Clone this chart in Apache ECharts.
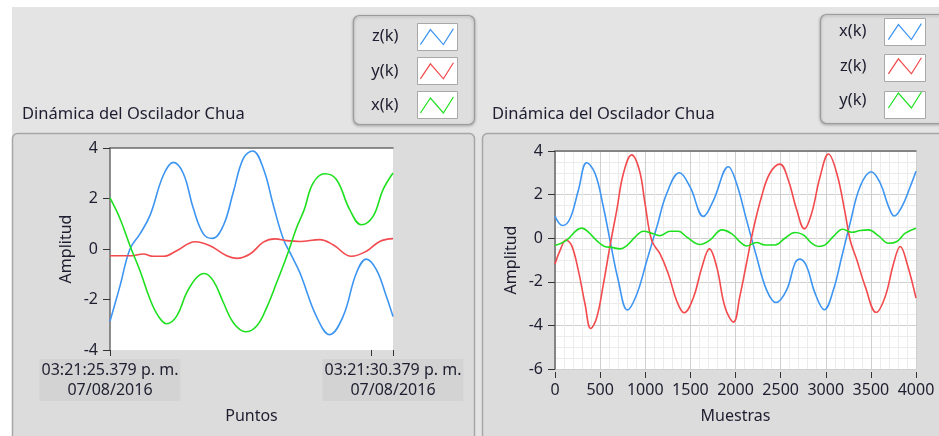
<!DOCTYPE html>
<html>
<head>
<meta charset="utf-8">
<script src="https://cdn.jsdelivr.net/npm/echarts@6/dist/echarts.min.js"></script>
<style>
  html, body { margin: 0; padding: 0; background: #ffffff; }
  #main { width: 939px; height: 436px; }
</style>
</head>
<body>
<div id="main"></div>
<script>
// grafica izquierda: tiempo (s) desde 03:21:25.379
var tiempoInicio = '03:21:25.379 p. m.\n07/08/2016'
var tiempoFin = '03:21:30.379 p. m.\n07/08/2016'
var ticksTiempo = [0, 4.621, 5]
var etiquetasTiempo = [0, 5]

var izqZ = [[0, -2.86], [0.177, -1.46], [0.353, 0], [0.53, 0.6], [0.707, 1.33], [0.942, 2.92], [1.119, 3.43], [1.296, 2.99], [1.473, 1.6], [1.649, 0.6], [1.808, 0.42], [2.003, 0.93], [2.179, 2.26], [2.356, 3.59], [2.521, 3.88], [2.709, 3.19], [2.886, 1.73], [3.062, 0.4], [3.21, -0.27], [3.357, -0.95], [3.647, -2.67], [3.882, -3.39], [4.118, -2.67], [4.353, -0.95], [4.529, -0.4], [4.706, -0.82], [4.882, -1.87], [5, -2.67]]
var izqY = [[0, -0.27], [0.353, -0.27], [0.589, -0.2], [0.766, -0.29], [0.942, -0.29], [1.178, -0.07], [1.502, 0.29], [1.767, 0.13], [2.062, -0.27], [2.238, -0.37], [2.474, -0.2], [2.709, 0.27], [2.915, 0.4], [3.121, 0.33], [3.357, 0.3], [3.706, 0.37], [3.941, 0.17], [4.265, -0.29], [4.529, -0.09], [4.765, 0.3], [5, 0.41]]
var izqX = [[0, 2.02], [0.177, 1.2], [0.353, 0.13], [0.53, -0.86], [0.707, -1.99], [0.854, -2.66], [1.001, -2.96], [1.178, -2.66], [1.355, -1.73], [1.531, -1.13], [1.667, -0.97], [1.826, -1.26], [2.003, -2.12], [2.179, -2.92], [2.397, -3.28], [2.591, -3.05], [2.768, -2.32], [2.945, -1.33], [3.121, -0.3], [3.298, 0.85], [3.43, 1.55], [3.588, 2.61], [3.794, 2.98], [4.0, 2.75], [4.235, 1.56], [4.441, 0.96], [4.647, 1.29], [4.824, 2.35], [5, 3.01]]

// grafica derecha: muestras
var derX = [[0, 1.0], [85, 0.58], [166, 0.89], [259, 2.2], [351, 3.46], [444, 2.97], [536, 1.43], [610, -0.11], [702, -1.95], [802, -3.29], [906, -2.57], [1017, -1.03], [1128, 0.51], [1238, 2.05], [1379, 3.0], [1497, 2.35], [1645, 1.0], [1756, 1.74], [1922, 3.28], [2011, 2.52], [2122, 0.84], [2233, -0.84], [2344, -2.37], [2448, -2.95], [2567, -2.37], [2659, -1.15], [2715, -0.96], [2789, -1.3], [2881, -2.52], [2985, -3.28], [3085, -2.37], [3178, -0.84], [3270, 0.69], [3381, 2.37], [3504, 3.05], [3604, 2.52], [3696, 1.45], [3759, 1.02], [3844, 1.45], [3937, 2.37], [4000, 3.07]]
var derZ = [[0, -1.18], [55, -0.57], [122, -0.08], [185, -0.34], [259, -1.49], [333, -3.03], [396, -4.14], [462, -3.65], [536, -2.11], [610, -0.34], [684, 1.28], [758, 2.97], [850, 3.82], [935, 3.12], [998, 1.58], [1072, -0.11], [1164, -0.72], [1257, -1.65], [1349, -2.88], [1431, -3.42], [1534, -2.72], [1627, -1.34], [1711, -0.49], [1793, -1.34], [1885, -3.18], [1978, -3.85], [2048, -2.67], [2122, -1.15], [2196, 0.38], [2289, 1.91], [2381, 2.98], [2493, 3.4], [2585, 2.67], [2678, 1.3], [2763, 0.43], [2844, 1.15], [2937, 2.82], [3030, 3.86], [3122, 2.98], [3215, 1.15], [3270, -0.08], [3344, -0.99], [3437, -2.21], [3559, -3.4], [3659, -2.67], [3752, -1.15], [3826, -0.38], [3900, -1.15], [4000, -2.75]]
var derY = [[0, -0.34], [122, -0.11], [296, 0.46], [370, 0.28], [462, -0.11], [551, -0.38], [629, -0.42], [721, -0.49], [795, -0.34], [887, 0.05], [980, 0.32], [1091, 0.2], [1165, 0.12], [1276, 0.32], [1368, 0.32], [1461, 0.05], [1608, -0.29], [1719, -0.08], [1849, 0.38], [1960, 0.2], [2052, -0.18], [2122, -0.36], [2233, -0.2], [2326, -0.31], [2437, -0.31], [2548, 0], [2659, 0.26], [2752, 0.15], [2844, -0.23], [2919, -0.38], [2993, -0.31], [3085, 0.08], [3189, 0.41], [3289, 0.27], [3381, 0.35], [3474, 0.38], [3585, 0.11], [3696, -0.23], [3789, -0.15], [3881, 0.23], [4000, 0.46]]

var azul = '#3d95f2'
var rojo = '#f24a4d'
var verde = '#1fe01f'
var texto = '#1e1e30'
var fuente = 'Noto Sans'
var zigzag = 'path://M0,0 M40,26 M4,21 L14,6 L27,21 L37,5'

var myChart = echarts.init(document.getElementById('main'))

function linea(nombre, datos, color, xi, yi) {
  return {
    type: 'line', name: nombre, data: datos,
    xAxisIndex: xi, yAxisIndex: yi,
    showSymbol: false, smooth: 0.4,
    lineStyle: { color: color, width: 1.6 },
    itemStyle: { color: color },
    animation: false
  }
}

function leyenda(nombres, colores, right, top) {
  return {
    orient: 'vertical', align: 'right', right: right, top: top, padding: 0,
    itemWidth: 40, itemHeight: 27, itemGap: 7, selectedMode: false,
    icon: zigzag,
    itemStyle: { color: 'transparent', borderWidth: 1.2 },
    textStyle: { fontFamily: fuente, fontSize: 16.5, color: texto, padding: [0, 13, 0, 0] },
    data: nombres.map(function (n, i) {
      return { name: n, itemStyle: { color: 'transparent', borderColor: colores[i], borderWidth: 1.2 } }
    })
  }
}

var option = {
  backgroundColor: '#ffffff',
  animation: false,
  graphic: [
    { type: 'rect', z: -10, shape: { x: 12, y: 7, width: 930, height: 432 }, style: { fill: '#e4e4e4' } },
    // paneles de las graficas
    { type: 'rect', z: -9, shape: { x: 12.5, y: 133.5, width: 462, height: 320, r: 5 },
      style: { fill: '#dcdcdc', stroke: '#a6a6a6', lineWidth: 1.5 } },
    { type: 'rect', z: -9, shape: { x: 482.5, y: 133.5, width: 470, height: 320, r: 5 },
      style: { fill: '#dcdcdc', stroke: '#a6a6a6', lineWidth: 1.5 } },
    // cajas de leyenda
    { type: 'rect', z: -9, shape: { x: 353.5, y: 15.5, width: 121, height: 109, r: 6 },
      style: { fill: '#dedede', stroke: '#9c9c9c', lineWidth: 1.2, shadowBlur: 3, shadowColor: 'rgba(0,0,0,0.25)', shadowOffsetY: 1 } },
    { type: 'rect', z: -9, shape: { x: 820.5, y: 14.5, width: 130, height: 109, r: 6 },
      style: { fill: '#dedede', stroke: '#9c9c9c', lineWidth: 1.2, shadowBlur: 3, shadowColor: 'rgba(0,0,0,0.25)', shadowOffsetY: 1 } },
    { type: 'rect', z: -8, shape: { x: 417.5, y: 23.5, width: 40, height: 27 }, style: { fill: '#fff', stroke: '#a8a8a8' } },
    { type: 'rect', z: -8, shape: { x: 417.5, y: 57.5, width: 40, height: 27 }, style: { fill: '#fff', stroke: '#a8a8a8' } },
    { type: 'rect', z: -8, shape: { x: 417.5, y: 91.5, width: 40, height: 27 }, style: { fill: '#fff', stroke: '#a8a8a8' } },
    { type: 'rect', z: -8, shape: { x: 884.5, y: 18.5, width: 41, height: 27 }, style: { fill: '#fff', stroke: '#a8a8a8' } },
    { type: 'rect', z: -8, shape: { x: 884.5, y: 54.5, width: 41, height: 27 }, style: { fill: '#fff', stroke: '#a8a8a8' } },
    { type: 'rect', z: -8, shape: { x: 884.5, y: 91.5, width: 41, height: 27 }, style: { fill: '#fff', stroke: '#a8a8a8' } }
  ],
  title: [
    { text: 'Dinámica del Oscilador Chua', left: 22, top: 106, padding: 0,
      textStyle: { fontFamily: fuente, fontSize: 16.5, fontWeight: 'normal', color: texto } },
    { text: 'Dinámica del Oscilador Chua', left: 492, top: 106, padding: 0,
      textStyle: { fontFamily: fuente, fontSize: 16.5, fontWeight: 'normal', color: texto } }
  ],
  legend: [
    leyenda(['z(k)', 'y(k)', 'x(k)'], [azul, rojo, verde], 482, 23),
    leyenda(['x(k)', 'z(k)', 'y(k)'], [azul, rojo, verde], 14, 18)
  ],
  grid: [
    { left: 110, top: 148, width: 283, height: 202, show: true, backgroundColor: '#ffffff', borderWidth: 0 },
    { left: 555, top: 151, width: 361, height: 218, show: true, backgroundColor: '#ffffff', borderWidth: 0 }
  ],
  xAxis: [
    {
      gridIndex: 0, type: 'value', min: 0, max: 5, position: 'bottom',
      name: 'Puntos', nameLocation: 'middle', nameGap: 58,
      nameTextStyle: { fontFamily: fuente, fontSize: 16, color: texto },
      axisLine: { show: false, onZero: false },
      axisTick: { show: true, length: 6, customValues: ticksTiempo, lineStyle: { color: '#333' } },
      axisLabel: {
        customValues: etiquetasTiempo, margin: 9,
        fontFamily: fuente, fontSize: 16, color: texto, lineHeight: 20,
        backgroundColor: '#d3d3d3', padding: [1, 2, 1, 2],
        formatter: function (v) { return v === 0 ? tiempoInicio : tiempoFin }
      },
      splitLine: { show: false }
    },
    {
      gridIndex: 0, type: 'value', min: 0, max: 5, position: 'top',
      axisLine: { show: true, onZero: false, lineStyle: { color: '#6a6a6a', width: 1.5 } },
      axisTick: { show: false }, axisLabel: { show: false }, splitLine: { show: false }
    },
    {
      gridIndex: 1, type: 'value', min: 0, max: 4000, interval: 500, offset: 3, position: 'bottom',
      name: 'Muestras', nameLocation: 'middle', nameGap: 36,
      nameTextStyle: { fontFamily: fuente, fontSize: 16, color: texto },
      axisLine: { show: false, onZero: false },
      axisTick: { show: true, length: 6, lineStyle: { color: '#333' } },
      axisLabel: { margin: 10, fontFamily: fuente, fontSize: 16, color: texto, formatter: function (v) { return String(v) } },
      minorTick: { show: false, splitNumber: 5 },
      splitLine: { show: true, lineStyle: { color: '#cfcfcf', width: 1 } },
      minorSplitLine: { show: true, lineStyle: { color: '#ececec', width: 1 } }
    },
    {
      gridIndex: 1, type: 'value', min: 0, max: 4000, position: 'top',
      axisLine: { show: true, onZero: false, lineStyle: { color: '#6a6a6a', width: 1.5 } },
      axisTick: { show: false }, axisLabel: { show: false }, splitLine: { show: false }
    }
  ],
  yAxis: [
    {
      gridIndex: 0, type: 'value', min: -4, max: 4, interval: 2,
      name: 'Amplitud', nameLocation: 'middle', nameGap: 36,
      nameTextStyle: { fontFamily: fuente, fontSize: 16, color: texto },
      axisLine: { show: true, onZero: false, lineStyle: { color: '#6a6a6a', width: 1.5 } },
      axisTick: { show: true, length: 7, lineStyle: { color: '#333' } },
      axisLabel: { margin: 12, fontFamily: fuente, fontSize: 16, color: texto },
      splitLine: { show: false }
    },
    {
      gridIndex: 1, type: 'value', min: -6, max: 4, interval: 2,
      name: 'Amplitud', nameLocation: 'middle', nameGap: 36,
      nameTextStyle: { fontFamily: fuente, fontSize: 16, color: texto },
      axisLine: { show: true, onZero: false, lineStyle: { color: '#6a6a6a', width: 1.5 } },
      axisTick: { show: true, length: 7, lineStyle: { color: '#333' } },
      axisLabel: { margin: 12, fontFamily: fuente, fontSize: 16, color: texto },
      minorTick: { show: false, splitNumber: 4 },
      splitLine: { show: true, lineStyle: { color: '#cfcfcf', width: 1 } },
      minorSplitLine: { show: true, lineStyle: { color: '#ececec', width: 1 } }
    }
  ],
  series: [
    linea('z(k)', izqZ, azul, 0, 0),
    linea('y(k)', izqY, rojo, 0, 0),
    linea('x(k)', izqX, verde, 0, 0),
    linea('x(k)', derX, azul, 2, 1),
    linea('z(k)', derZ, rojo, 2, 1),
    linea('y(k)', derY, verde, 2, 1)
  ]
}

myChart.setOption(option)
</script>
</body>
</html>
